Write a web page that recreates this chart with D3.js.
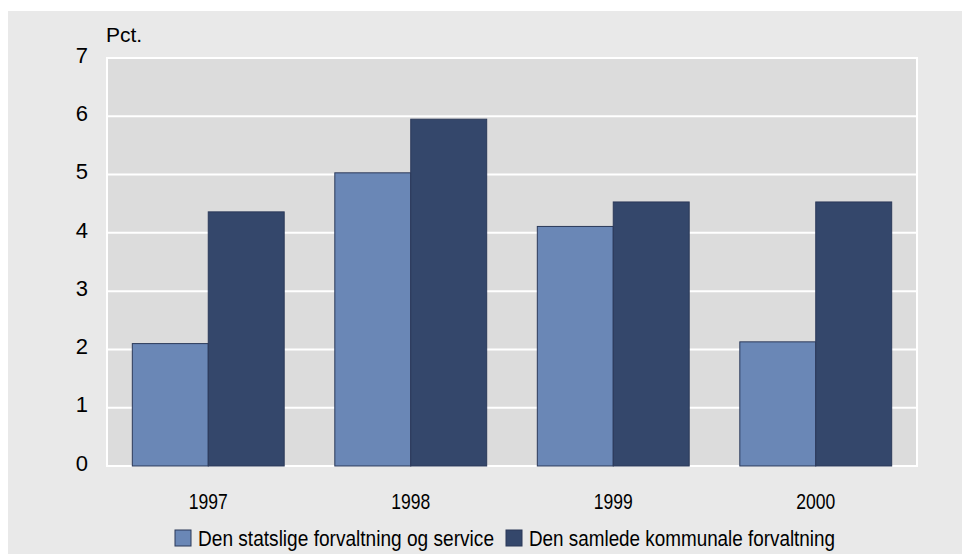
<!DOCTYPE html>
<html>
<head>
<meta charset="utf-8">
<script src="https://cdn.jsdelivr.net/npm/d3@7"></script>
<style>
  body { margin: 0; background: #ffffff; }
  svg { display: block; }
</style>
</head>
<body>
<svg id="chart" width="962" height="554"></svg>
<script>
    var years = ["1997", "1998", "1999", "2000"];
    var seriesNames = ["Den statslige forvaltning og service", "Den samlede kommunale forvaltning"];
    var statslige = [2.1, 5.03, 4.11, 2.13];
    var kommunale = [4.36, 5.95, 4.53, 4.53];
    var yTicks = [0, 1, 2, 3, 4, 5, 6, 7];
    var colors = ["#6a87b6", "#34476b"];

    var plotLeft = 107, plotRight = 917, plotTop = 58, plotBottom = 466;
    var narrow = "Liberation Sans Narrow, Arial Narrow, Liberation Sans, Arial, sans-serif";

    var svg = d3.select("#chart");

    // outer grey panel
    svg.append("rect")
        .attr("x", 8).attr("y", 11)
        .attr("width", 954).attr("height", 543)
        .attr("fill", "#e9e9e9");

    var x = d3.scaleBand()
        .domain(years)
        .range([plotLeft, plotRight])
        .paddingInner(0.25)
        .paddingOuter(0.125);

    var xInner = d3.scaleBand()
        .domain([0, 1])
        .range([0, x.bandwidth()]);

    var y = d3.scaleLinear()
        .domain([0, 7])
        .range([plotBottom, plotTop]);

    // plot background
    svg.append("rect")
        .attr("x", plotLeft).attr("y", plotTop)
        .attr("width", plotRight - plotLeft).attr("height", plotBottom - plotTop)
        .attr("fill", "#dcdcdc")
        .attr("stroke", "#ffffff")
        .attr("stroke-width", 2);

    // gridlines
    svg.append("g")
        .selectAll("line")
        .data(yTicks)
        .enter()
        .append("line")
        .attr("x1", plotLeft).attr("x2", plotRight)
        .attr("y1", d => y(d)).attr("y2", d => y(d))
        .attr("stroke", "#ffffff")
        .attr("stroke-width", 2);

    // y tick labels
    svg.append("g")
        .selectAll("text")
        .data(yTicks)
        .enter()
        .append("text")
        .attr("x", 88)
        .attr("y", d => y(d) - 3)
        .attr("dy", "0.35em")
        .attr("text-anchor", "end")
        .attr("font-family", "Liberation Sans, Arial, sans-serif")
        .attr("font-size", 22)
        .attr("fill", "#000")
        .text(d => d);

    svg.append("text")
        .attr("x", 106).attr("y", 42)
        .attr("font-family", "Liberation Sans, Arial, sans-serif")
        .attr("font-size", 21)
        .attr("fill", "#000")
        .text("Pct.");

    // bars
    var series = [statslige, kommunale];
    series.forEach(function (values, s) {
        svg.append("g")
            .selectAll("rect")
            .data(values)
            .enter()
            .append("rect")
            .attr("x", (d, i) => x(years[i]) + xInner(s))
            .attr("y", d => y(d))
            .attr("width", xInner.bandwidth())
            .attr("height", d => y(0) - y(d))
            .attr("fill", colors[s])
            .attr("stroke", "#2b3959")
            .attr("stroke-width", 1);
    });

    // x labels (condensed look)
    svg.append("g")
        .selectAll("text")
        .data(years)
        .enter()
        .append("text")
        .attr("x", d => x(d) + x.bandwidth() / 2)
        .attr("y", 501)
        .attr("dy", "0.35em")
        .attr("text-anchor", "middle")
        .attr("font-family", narrow)
        .attr("font-size", 22)
        .attr("textLength", 39)
        .attr("lengthAdjust", "spacingAndGlyphs")
        .attr("fill", "#000")
        .text(d => d);

    // legend
    var legendX = [175, 506];
    var legendLen = [296, 306];
    seriesNames.forEach(function (name, s) {
        svg.append("rect")
            .attr("x", legendX[s]).attr("y", 530)
            .attr("width", 16).attr("height", 16)
            .attr("fill", colors[s])
            .attr("stroke", "#2b3959")
            .attr("stroke-width", 1);
        svg.append("text")
            .attr("x", legendX[s] + 23).attr("y", 538)
            .attr("dy", "0.35em")
            .attr("font-family", narrow)
            .attr("font-size", 22)
            .attr("textLength", legendLen[s])
            .attr("lengthAdjust", "spacingAndGlyphs")
            .attr("fill", "#000")
            .text(name);
    });
</script>
</body>
</html>
